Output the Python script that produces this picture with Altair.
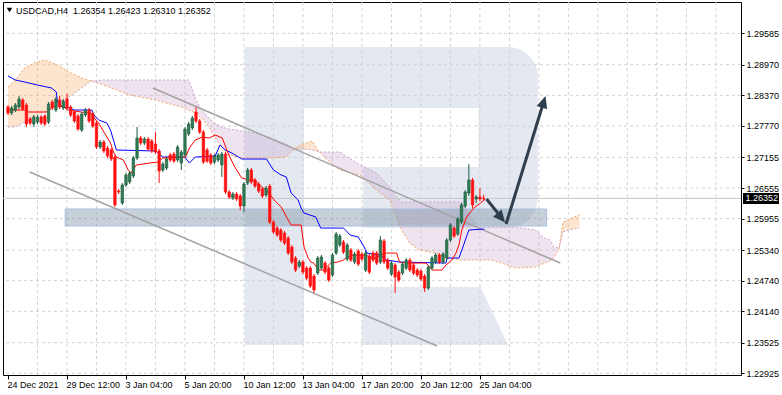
import altair as alt
import pandas as pd

# ---------------- data ----------------
open_ = [1.28142, 1.28024, 1.28083, 1.28142, 1.28279, 1.28181, 1.27907, 1.27809, 1.27848, 1.27946,
         1.27966, 1.27848, 1.28240, 1.28083, 1.28279, 1.28122, 1.28299, 1.28142, 1.28044, 1.27966,
         1.27691, 1.27985, 1.28083, 1.28005, 1.27828, 1.27358, 1.27456, 1.27339, 1.27300, 1.27162,
         1.26496, 1.26261, 1.26614, 1.26673, 1.26790, 1.27143, 1.27535, 1.27437, 1.27515, 1.27476,
         1.27417, 1.27280, 1.26908, 1.26947, 1.27202, 1.27221, 1.27104, 1.27045, 1.27202, 1.27613,
         1.27731, 1.28044, 1.27868, 1.27652, 1.27300, 1.27202, 1.27064, 1.27104, 1.27006, 1.27221,
         1.26477, 1.26359, 1.26438, 1.26398, 1.26202, 1.26653, 1.26908, 1.26712, 1.26633, 1.26536,
         1.26418, 1.26594, 1.25889, 1.25771, 1.25732, 1.25673, 1.25575, 1.25399, 1.25183, 1.25026,
         1.25105, 1.24987, 1.24987, 1.24830, 1.24889, 1.24987, 1.25085, 1.24987, 1.24850, 1.25281,
         1.25438, 1.25497, 1.25163, 1.25340, 1.25105, 1.25321, 1.25262, 1.24948, 1.25222, 1.25281,
         1.25281, 1.25105, 1.25516, 1.25144, 1.24869, 1.25046, 1.24909, 1.24889, 1.24987, 1.25144,
         1.25046, 1.24948, 1.24928, 1.24830, 1.24595, 1.24987, 1.25105, 1.25242, 1.25105, 1.25183,
         1.25536, 1.25771, 1.25653, 1.25889, 1.26202, 1.26457, 1.26712, 1.26340, 1.26379, 1.26354]
high_ = [1.28181, 1.28162, 1.28220, 1.28357, 1.28318, 1.28220, 1.27946, 1.27985, 1.27985, 1.27985,
         1.28005, 1.28240, 1.28279, 1.28338, 1.28357, 1.28299, 1.28397, 1.28181, 1.28083, 1.28005,
         1.28044, 1.28122, 1.28122, 1.28044, 1.27868, 1.27495, 1.27495, 1.27378, 1.27339, 1.27202,
         1.26536, 1.26653, 1.26849, 1.26888, 1.27182, 1.27750, 1.27574, 1.27554, 1.27554, 1.27515,
         1.27652, 1.27319, 1.27064, 1.27162, 1.27241, 1.27260, 1.27397, 1.27300, 1.27750, 1.27848,
         1.27966, 1.28142, 1.27907, 1.27691, 1.27339, 1.27241, 1.27221, 1.27241, 1.27260, 1.27260,
         1.26516, 1.26477, 1.26477, 1.26438, 1.26673, 1.26947, 1.26947, 1.26751, 1.26673, 1.26575,
         1.26594, 1.26633, 1.25928, 1.25811, 1.25771, 1.25713, 1.25614, 1.25438, 1.25222, 1.25144,
         1.25144, 1.25026, 1.25026, 1.24869, 1.25222, 1.25242, 1.25124, 1.25026, 1.25281, 1.25693,
         1.25653, 1.25536, 1.25477, 1.25379, 1.25301, 1.25360, 1.25301, 1.25321, 1.25262, 1.25321,
         1.25321, 1.25614, 1.25556, 1.25183, 1.25124, 1.25085, 1.24948, 1.25105, 1.25183, 1.25183,
         1.25085, 1.24987, 1.24968, 1.24869, 1.25046, 1.25222, 1.25281, 1.25281, 1.25301, 1.25575,
         1.25869, 1.25811, 1.25987, 1.26261, 1.26516, 1.27025, 1.26751, 1.26418, 1.26555, 1.26423]
low_ = [1.27985, 1.27985, 1.28044, 1.28103, 1.28064, 1.27750, 1.27789, 1.27750, 1.27809, 1.27789,
        1.27770, 1.27809, 1.28083, 1.28044, 1.28103, 1.28083, 1.28083, 1.27946, 1.27828, 1.27672,
        1.27652, 1.27946, 1.27828, 1.27731, 1.27319, 1.27319, 1.27241, 1.27143, 1.27084, 1.26183,
        1.26438, 1.26222, 1.26575, 1.26633, 1.26751, 1.27104, 1.27397, 1.27397, 1.27280, 1.27241,
        1.27221, 1.26653, 1.26869, 1.26908, 1.27064, 1.27045, 1.27064, 1.26908, 1.27162, 1.27574,
        1.27691, 1.27828, 1.27613, 1.27025, 1.27045, 1.27006, 1.27025, 1.27064, 1.26771, 1.26438,
        1.26340, 1.26320, 1.26300, 1.26124, 1.26085, 1.26614, 1.26633, 1.26555, 1.26457, 1.26359,
        1.26379, 1.25850, 1.25653, 1.25595, 1.25497, 1.25438, 1.25242, 1.25065, 1.24909, 1.24987,
        1.24869, 1.24752, 1.24595, 1.24498, 1.24850, 1.24948, 1.24869, 1.24714, 1.24811, 1.25242,
        1.25399, 1.25262, 1.25124, 1.25105, 1.25065, 1.25026, 1.25124, 1.24909, 1.24869, 1.25105,
        1.25046, 1.25065, 1.25065, 1.24948, 1.24830, 1.24498, 1.24714, 1.24850, 1.24948, 1.24909,
        1.24850, 1.24811, 1.24733, 1.24518, 1.24557, 1.24948, 1.25065, 1.25065, 1.25065, 1.25144,
        1.25497, 1.25575, 1.25614, 1.25850, 1.26163, 1.26398, 1.26163, 1.26261, 1.26300, 1.26310]
close_ = [1.28024, 1.28122, 1.28181, 1.28299, 1.28103, 1.27809, 1.27828, 1.27946, 1.27946, 1.27828,
          1.27809, 1.28201, 1.28122, 1.28299, 1.28142, 1.28259, 1.28122, 1.27985, 1.27868, 1.27711,
          1.28005, 1.28083, 1.27868, 1.27770, 1.27358, 1.27456, 1.27280, 1.27182, 1.27123, 1.26222,
          1.26477, 1.26614, 1.26810, 1.26849, 1.27143, 1.27535, 1.27437, 1.27515, 1.27319, 1.27280,
          1.27260, 1.26888, 1.27025, 1.27123, 1.27104, 1.27084, 1.27358, 1.27260, 1.27711, 1.27809,
          1.27926, 1.27868, 1.27652, 1.27064, 1.27084, 1.27045, 1.27182, 1.27202, 1.27221, 1.26477,
          1.26379, 1.26438, 1.26340, 1.26202, 1.26633, 1.26908, 1.26673, 1.26594, 1.26496, 1.26398,
          1.26555, 1.25889, 1.25693, 1.25634, 1.25536, 1.25477, 1.25281, 1.25105, 1.24948, 1.25105,
          1.24909, 1.24791, 1.24634, 1.24557, 1.25183, 1.25203, 1.24909, 1.24752, 1.25242, 1.25653,
          1.25614, 1.25301, 1.25438, 1.25144, 1.25262, 1.25065, 1.25163, 1.25281, 1.24909, 1.25144,
          1.25085, 1.25536, 1.25105, 1.24987, 1.25085, 1.24811, 1.24752, 1.25065, 1.25144, 1.24948,
          1.24889, 1.24850, 1.24771, 1.24595, 1.25007, 1.25183, 1.25242, 1.25105, 1.25262, 1.25536,
          1.25830, 1.25614, 1.25947, 1.26222, 1.26477, 1.26712, 1.26222, 1.26379, 1.26340, 1.26352]

# Kijun-sen (blue) and Tenkan-sen (red): bar position, price
kijun_bar = [0, 2, 4.5, 8, 11.8, 13.1, 13.4, 14.7, 16.6, 17.9, 22.7, 23.3, 24.6, 26.8, 27.8,
             28.6, 29.4, 40.1, 42, 47.9, 49.2, 50.8, 56.2, 57.5, 58.9, 60.7, 63.4, 70.1, 72, 74.1,
             75.5, 76.8, 78.7, 79.5, 80.3, 83.5, 84.8, 91, 92.8, 95, 96.3, 97.4, 100.9, 102.7, 106.2,
             118.8, 119.1, 122.3, 123.1, 125, 129.2]
kijun_val = [1.28749, 1.28671, 1.28632, 1.28573, 1.28514, 1.28436, 1.28240, 1.28142, 1.28122, 1.28083,
             1.28083, 1.27985, 1.27887, 1.27828, 1.27691, 1.27495, 1.27300, 1.27280, 1.27162, 1.27162,
             1.27045, 1.27162, 1.27182, 1.27397, 1.27300, 1.27241, 1.27123, 1.27123, 1.26908, 1.26810,
             1.26771, 1.26457, 1.26320, 1.26163, 1.26065, 1.25987, 1.25771, 1.25771, 1.25634, 1.25595,
             1.25438, 1.25281, 1.25242, 1.25144, 1.25105, 1.25085, 1.25183, 1.25183, 1.25340, 1.25732,
             1.25751]
tenkan_bar = [0, 4.6, 5.4, 10.7, 11.8, 13.4, 15.3, 16.1, 19.8, 22.5, 23.8, 24.6, 26, 27.8, 28.6,
              29.4, 31.3, 32.6, 33.4, 34.8, 38.5, 40.7, 42, 48.2, 49.2, 50.8, 52.7, 54.6, 56.2, 58.1,
              59.9, 61.5, 63.4, 65.3, 66.9, 68.2, 70.6, 72.2, 74.1, 76, 76.8, 79.5, 80.3, 81.3, 82.1,
              82.9, 84.3, 85.6, 87.5, 89.4, 91, 92, 93.7, 96.9, 99, 100.1, 100.9, 102.7, 105.4, 106.2,
              108.1, 113.4, 115.1, 117.7, 118.8, 120.4, 121.5, 122.3, 123.1, 124.4, 126.3, 128.2, 129.5]
tenkan_val = [1.28083, 1.28083, 1.28044, 1.28044, 1.28122, 1.28181, 1.28142, 1.28083, 1.28044, 1.28024,
              1.27887, 1.27828, 1.27652, 1.27437, 1.27260, 1.27162, 1.27104, 1.26908, 1.26849, 1.27006,
              1.27045, 1.27064, 1.27143, 1.27162, 1.27339, 1.27495, 1.27554, 1.27535, 1.27593, 1.27535,
              1.27202, 1.26967, 1.26751, 1.26712, 1.26712, 1.26614, 1.26477, 1.26320, 1.26183, 1.25928,
              1.25830, 1.25830, 1.25399, 1.25203, 1.25105, 1.25085, 1.24948, 1.24948, 1.25085, 1.25105,
              1.25144, 1.25203, 1.25242, 1.25242, 1.25183, 1.25183, 1.25242, 1.25281, 1.25281, 1.25105,
              1.25085, 1.25085, 1.24948, 1.24948, 1.25046, 1.25144, 1.25281, 1.25438, 1.25732, 1.25987,
              1.26163, 1.26261, 1.26340]

# Ichimoku cloud: Senkou span A and span B
cloud_bar = [0, 2, 4.5, 7, 10, 13.5, 16.5, 20, 22.5, 26, 33, 40, 47, 49, 51, 52.5, 54.5, 56, 58, 60,
             63.5, 68, 71.5, 75.5, 77.5, 80, 82.5, 83.5, 84.5, 86, 90, 95.5, 100, 103.5, 105.5, 107,
             109, 111.5, 116, 119, 123, 125, 127.5, 131, 134, 137.5, 143, 145.5, 147, 148, 149.5,
             150.5, 152, 153.5, 155]
span_a = [1.28534, 1.28671, 1.28906, 1.29004, 1.29063, 1.28965, 1.28828, 1.28710, 1.28651, 1.28573,
          1.28377, 1.28279, 1.28142, 1.28083, 1.28024, 1.27926, 1.27750, 1.27554, 1.27358, 1.27202,
          1.27143, 1.27143, 1.27143, 1.27162, 1.27319, 1.27417, 1.27476, 1.27358, 1.27260, 1.27143,
          1.26908, 1.26810, 1.26516, 1.26320, 1.25967, 1.25693, 1.25477, 1.25340, 1.25281, 1.25183,
          1.25144, 1.25144, 1.25144, 1.25144, 1.25085, 1.24987, 1.25007, 1.25085, 1.25124, 1.25183,
          1.25379, 1.25889, 1.25928, 1.25987, 1.26026]
span_b = [1.27750, 1.27750, 1.27848, 1.27946, 1.28044, 1.28201, 1.28338, 1.28514, 1.28651, 1.28671,
          1.28671, 1.28671, 1.28671, 1.28671, 1.28279, 1.28083, 1.27926, 1.27828, 1.27750, 1.27711,
          1.27672, 1.27613, 1.27535, 1.27417, 1.27319, 1.27319, 1.27300, 1.27280, 1.27260, 1.27260,
          1.27260, 1.27006, 1.26849, 1.26575, 1.26359, 1.26281, 1.26281, 1.26281, 1.26281, 1.26281,
          1.26281, 1.26026, 1.25791, 1.25791, 1.25791, 1.25791, 1.25732, 1.25575, 1.25536, 1.25399,
          1.25379, 1.25693, 1.25732, 1.25751, 1.25771]

y_ticks = [1.29585, 1.28970, 1.28370, 1.27770, 1.27155, 1.26555, 1.25955, 1.25340,
           1.24740, 1.24140, 1.23525, 1.22925]
time_labels = ["24 Dec 2021", "29 Dec 12:00", "3 Jan 04:00", "5 Jan 20:00", "10 Jan 12:00",
               "13 Jan 04:00", "17 Jan 20:00", "20 Jan 12:00", "25 Jan 04:00"]
symbol = "USDCAD,H4"

# drawn objects (bar position, price)
channel_name = ["upper", "upper", "lower", "lower"]
channel_bar = [39.3, 149.8, 5.9, 116.4]
channel_price = [1.28514, 1.25085, 1.26869, 1.23460]
zone_bar = [15.5, 146.1]
zone_price = [1.26144, 1.25811]
arrow_start_bar = [129.8, 135.1]
arrow_start_price = [1.26340, 1.25850]
arrow_shaft_bar = [133.8, 145.3]
arrow_shaft_price = [1.25979, 1.28246]
arrow_tip_bar = [134.85, 145.8]
arrow_tip_price = [1.25879, 1.28357]
arrow_angle = [140, 17.5]

# watermark "R"
logo_x1 = [64.2, 80.0, 96.3, 96.05]
logo_x2 = [80.3, 127.9, 127.9, 128.4]
logo_y1 = [1.29317, 1.29317, 1.26967, 1.24616]
logo_y2 = [1.23479, 1.28122, 1.25771, 1.23479]
logo_bowl = [127.6, 143.7, 1.29317, 1.25771]
logo_leg_x = [128.16, 135.65]
logo_leg_top = [1.24616, 1.23479]
logo_leg_bottom = [1.23479, 1.23479]

# ---------------- styling ----------------
FONT = "Liberation Sans"
LOGO = "#e4e9f1"
GRID = "#d2d2d2"
BULL = "#2e7d55"
BULL_LINE = "#1f5e3e"
BEAR = "#ff1010"
ORANGE = "#f4a460"
THISTLE = "#c9a3cd"
ARROW = "#2f3e4d"

XS = alt.Scale(domain=[0, 197.46], nice=False, zero=False)
YS = alt.Scale(domain=[1.22892, 1.30199], nice=False, zero=False)

test = "datum.value % 16 == 0 && datum.value <= 128"
label_js = "[" + ",".join("'" + t + "'" for t in time_labels) + "]"
X_AXIS = alt.Axis(
    values=list(range(0, 197, 8)),
    labelExpr="(" + test + ") ? " + label_js + "[datum.value / 16] : ''",
    grid=False, domain=False, ticks=True,
    tickOpacity={"condition": {"test": test, "value": 1}, "value": 0},
    tickSize=4, tickColor="#000", tickWidth=1,
    labelFont=FONT, labelFontSize=9, labelColor="#000",
    labelAlign="left", labelBaseline="top", labelPadding=1, labelOffset=-1,
    labelFlush=False, labelOverlap=False, title=None, orient="bottom",
)
Y_AXIS = alt.Axis(
    values=y_ticks, format=".5f", grid=False, domain=False,
    tickSize=3, tickColor="#000", tickWidth=1,
    labelFont=FONT, labelFontSize=9, labelColor="#000", labelPadding=2,
    labelOverlap=False, labelFlush=False, title=None, orient="right",
)


def xq(f):
    return alt.X(f, type="quantitative", scale=XS, axis=X_AXIS)


def yq(f):
    return alt.Y(f, type="quantitative", scale=YS, axis=Y_AXIS)


n_bars = len(open_)
candles = pd.DataFrame({"i": list(range(n_bars)), "o": open_, "h": high_, "l": low_, "c": close_})
candles["dir"] = ["up" if c >= o else "down" for o, c in zip(open_, close_)]

# split cloud into up / down pieces
rows = []
seg = 0
prev = None
for k in range(len(cloud_bar) - 1):
    kind = "up" if span_a[k] + span_a[k + 1] >= span_b[k] + span_b[k + 1] else "down"
    if kind != prev:
        seg += 1
        prev = kind
        rows.append(dict(seg=seg, kind=kind, x=cloud_bar[k], a=span_a[k], b=span_b[k]))
    rows.append(dict(seg=seg, kind=kind, x=cloud_bar[k + 1], a=span_a[k + 1], b=span_b[k + 1]))
cloud_seg = pd.DataFrame(rows)
cloud_df = pd.DataFrame({"x": cloud_bar, "a": span_a, "b": span_b})

layers = []

# watermark
logo_df = pd.DataFrame({"x1": logo_x1, "x2": logo_x2, "y1": logo_y1, "y2": logo_y2})
layers.append(alt.Chart(logo_df).mark_rect(color=LOGO).encode(
    x=xq("x1"), x2="x2", y=yq("y1"), y2="y2"))
bowl_df = pd.DataFrame({"x1": [logo_bowl[0]], "x2": [logo_bowl[1]], "y1": [logo_bowl[2]], "y2": [logo_bowl[3]]})
layers.append(alt.Chart(bowl_df).mark_rect(color=LOGO, cornerRadiusTopRight=60, cornerRadiusBottomRight=45).encode(
    x=xq("x1"), x2="x2", y=yq("y1"), y2="y2"))
leg_df = pd.DataFrame({"x": logo_leg_x, "y": logo_leg_top, "y2": logo_leg_bottom})
layers.append(alt.Chart(leg_df).mark_area(color=LOGO).encode(x=xq("x"), y=yq("y"), y2="y2"))

# grid
layers.append(alt.Chart(pd.DataFrame({"g": list(range(8, 197, 8))})).mark_rule(
    color=GRID, strokeDash=[3, 3], strokeWidth=1).encode(x=xq("g")))
layers.append(alt.Chart(pd.DataFrame({"g": y_ticks})).mark_rule(
    color=GRID, strokeDash=[3, 3], strokeWidth=1).encode(y=yq("g")))

# cloud
layers.append(alt.Chart(cloud_seg).transform_filter(alt.datum.kind == "up").mark_area(
    color=ORANGE, opacity=0.3, clip=True).encode(x=xq("x"), y=yq("a"), y2="b", detail="seg:N"))
layers.append(alt.Chart(cloud_seg).transform_filter(alt.datum.kind == "down").mark_area(
    color=THISTLE, opacity=0.3, clip=True).encode(x=xq("x"), y=yq("a"), y2="b", detail="seg:N"))
layers.append(alt.Chart(cloud_df).mark_line(color=THISTLE, strokeDash=[2, 2], strokeWidth=1, clip=True).encode(
    x=xq("x"), y=yq("b")))
layers.append(alt.Chart(cloud_df).mark_line(color=ORANGE, strokeDash=[2, 2], strokeWidth=1, clip=True).encode(
    x=xq("x"), y=yq("a")))

# current price line
price_df = pd.DataFrame({"p": [close_[-1]], "t": [f"{close_[-1]:.5f}"]})
layers.append(alt.Chart(price_df).mark_rule(color="#c6c6c6", strokeWidth=1).encode(y=yq("p")))

# support zone
zone_df = pd.DataFrame({"x1": [zone_bar[0]], "x2": [zone_bar[1]], "y1": [zone_price[0]], "y2": [zone_price[1]]})
layers.append(alt.Chart(zone_df).mark_rect(fill="#7d8ea5", fillOpacity=0.42, stroke="#a9c1de", strokeWidth=1).encode(
    x=xq("x1"), x2="x2", y=yq("y1"), y2="y2"))

# channel
chan_df = pd.DataFrame({"name": channel_name, "x": channel_bar, "p": channel_price})
layers.append(alt.Chart(chan_df).mark_line(color="#a2a2a2", strokeWidth=1.5).encode(
    x=xq("x"), y=yq("p"), detail="name:N"))

# ichimoku lines
layers.append(alt.Chart(pd.DataFrame({"x": kijun_bar, "p": kijun_val})).mark_line(
    color="#0000ff", strokeWidth=1, clip=True).encode(x=xq("x"), y=yq("p")))
layers.append(alt.Chart(pd.DataFrame({"x": tenkan_bar, "p": tenkan_val})).mark_line(
    color="#ff0000", strokeWidth=1, clip=True).encode(x=xq("x"), y=yq("p")))

# candles
layers.append(alt.Chart(candles).transform_filter(alt.datum.dir == "up").mark_rule(
    color=BULL_LINE, strokeWidth=1, clip=True).encode(x=xq("i"), y=yq("l"), y2="h:Q"))
layers.append(alt.Chart(candles).transform_filter(alt.datum.dir == "down").mark_rule(
    color=BEAR, strokeWidth=1, clip=True).encode(x=xq("i"), y=yq("l"), y2="h:Q"))
layers.append(alt.Chart(candles).transform_filter(alt.datum.dir == "up").mark_bar(
    size=2.4, fill=BULL, stroke=BULL_LINE, strokeWidth=0.7, clip=True).encode(x=xq("i"), y=yq("o"), y2="c:Q"))
layers.append(alt.Chart(candles).transform_filter(alt.datum.dir == "down").mark_bar(
    size=2.4, fill=BEAR, stroke=BEAR, strokeWidth=0.7, clip=True).encode(x=xq("i"), y=yq("o"), y2="c:Q"))

# arrows
arrow_df = pd.DataFrame({"x": arrow_start_bar, "y": arrow_start_price, "x2": arrow_shaft_bar,
                         "y2": arrow_shaft_price, "tx": arrow_tip_bar, "ty": arrow_tip_price,
                         "ang": arrow_angle})
layers.append(alt.Chart(arrow_df).mark_rule(color=ARROW, strokeWidth=3, strokeCap="butt").encode(
    x=xq("x"), y=yq("y"), x2="x2", y2="y2"))
layers.append(alt.Chart(arrow_df).mark_point(
    shape="M0,0L-0.9,2L0.9,2Z", size=150, filled=True, opacity=1, color=ARROW, strokeWidth=0).encode(
    x=xq("tx"), y=yq("ty"), angle=alt.Angle("ang:Q", scale=None)))

# price tag on the right axis
layers.append(alt.Chart(price_df).mark_rule(color="#000", strokeWidth=11, strokeCap="butt").encode(
    x=alt.value(740), x2=alt.value(776), y=yq("p")))
layers.append(alt.Chart(price_df).mark_text(
    color="#fff", font=FONT, fontSize=9, align="left", baseline="middle").encode(
    x=alt.value(742.5), y=yq("p"), text="t:N"))

# header
header = symbol + "\u00a0\u00a0" + " ".join(f"{v:.5f}" for v in (open_[-1], high_[-1], low_[-1], close_[-1]))
head_df = pd.DataFrame({"t": [header]})
layers.append(alt.Chart(head_df).mark_text(
    color="#000", font=FONT, fontSize=9, align="left", baseline="middle").encode(
    x=alt.value(13), y=alt.value(8.5), text="t:N"))
layers.append(alt.Chart(head_df).mark_point(
    shape="triangle-down", size=30, filled=True, color="#000", opacity=1).encode(
    x=alt.value(6.5), y=alt.value(8)))

chart = alt.layer(*layers).properties(
    width=738, height=373,
    padding={"left": 3, "top": 2, "right": 41, "bottom": 20},
    autosize="none", background="#ffffff",
).configure_view(stroke="#000", strokeWidth=1)

chart.save("out.html", embed_options={"renderer": "svg", "actions": False})
